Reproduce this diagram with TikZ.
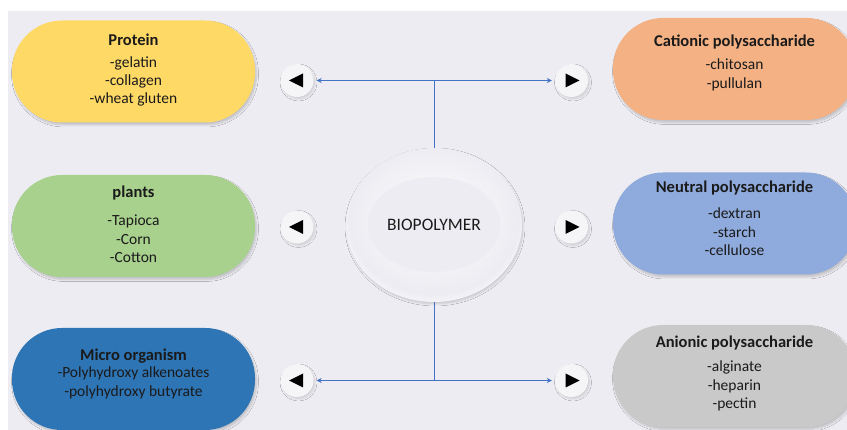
\documentclass[tikz,border=0pt]{standalone}
\usepackage{fontspec}
\setmainfont{Carlito}
\usetikzlibrary{shapes.geometric,shadows.blur,arrows.meta}
\definecolor{bgc}{HTML}{ECECF2}
\definecolor{cyel}{HTML}{FFD966}
\definecolor{cgrn}{HTML}{A9D18E}
\definecolor{cblu}{HTML}{2E75B6}
\definecolor{cora}{HTML}{F4B183}
\definecolor{cneu}{HTML}{8FAADC}
\definecolor{cgry}{HTML}{C9C9C9}
\definecolor{lnc}{HTML}{4472C4}
\definecolor{txc}{HTML}{1A1A1A}
\definecolor{ringmid}{HTML}{E0E0E6}
\definecolor{ringedge}{HTML}{9A9AA4}
\pgfdeclareradialshading{ringshade}{\pgfpoint{0bp}{3bp}}{%
  color(0bp)=(white); color(24bp)=(bgc); color(28bp)=(white!70!bgc); color(32bp)=(ringmid); color(36bp)=(ringmid!55!ringedge); color(40bp)=(ringedge); color(50bp)=(ringedge)}
\tikzset{
  pill/.style={draw=none, rounded corners=50pt, minimum width=243pt, minimum height=102pt,
    blur shadow={shadow xshift=1.5pt, shadow yshift=-2.5pt, shadow blur steps=6, shadow opacity=18}},
  ttl/.style={font=\fontsize{16.5}{19}\selectfont\bfseries, text=txc, inner sep=0pt},
  itm/.style={font=\fontsize{15.5}{18.4}\selectfont, text=txc, align=center, inner sep=0pt},
  btn/.style={circle, minimum size=33pt, inner sep=0pt, fill=bgc!55!white,
    blur shadow={shadow xshift=1.5pt, shadow yshift=-2pt, shadow blur steps=5, shadow opacity=12}},
  tri/.style={fill=black},
  conn/.style={draw=lnc, line width=0.9pt},
  tip/.style={{Stealth[length=5pt,width=5pt]}-{Stealth[length=5pt,width=5pt]}, shorten <=3pt, shorten >=3pt}
}
\begin{document}
\begin{tikzpicture}[x=1pt,y=-1pt]
\useasboundingbox (0,0) rectangle (847,430);
\fill[white] (0,0) rectangle (847,430);
\fill[bgc] (8,11) rectangle (847,430);
\begin{scope}
\clip (0,0) rectangle (847,430);
% pills
\node[pill, fill=cyel] (p1) at (133.5,71.5) {};
\node[pill, fill=cgrn] (p2) at (133.5,226) {};
\node[pill, fill=cblu] (p3) at (133.5,379) {};
\node[pill, fill=cora] (p4) at (734.5,69) {};
\node[pill, fill=cneu] (p5) at (734.5,223.5) {};
\node[pill, fill=cgry] (p6) at (734.5,376) {};
\end{scope}
% texts
\node[ttl] (t1) at (133.5,40) {Protein};
\node[itm] (i1) at (133.5,81.5) {-gelatin\\-collagen\\-wheat gluten};
\node[ttl] (t2) at (133.5,193) {plants};
\node[itm] (i2) at (133.5,239) {-Tapioca\\-Corn\\-Cotton};
\node[ttl] (t3) at (133.5,356) {Micro organism};
\node[itm] (i3) at (133.5,383) {-Polyhydroxy alkenoates\\-polyhydroxy butyrate};
\node[ttl] (t4) at (734.5,42) {Cationic polysaccharide};
\node[itm] (i4) at (734.5,75) {-chitosan\\-pullulan};
\node[ttl] (t5) at (734.5,188) {Neutral polysaccharide};
\node[itm] (i5) at (734.5,232) {-dextran\\-starch\\-cellulose};
\node[ttl] (t6) at (734.5,343) {Anionic polysaccharide};
\node[itm] (i6) at (734.5,386) {-alginate\\-heparin\\-pectin};
% central ellipse
\node[ellipse, minimum width=176pt, minimum height=154pt, shading=ringshade,
  blur shadow={shadow xshift=1pt, shadow yshift=-2pt, shadow blur steps=6, shadow opacity=15}] (bio) at (434,225) {};
\node[ellipse, minimum width=125pt, minimum height=95pt, fill=bgc, inner sep=0pt,
  font=\fontsize{17.5}{20}\selectfont, text=txc] (bioin) at (434,224.5) {BIOPOLYMER};
% buttons
\node[btn] (bl1) at (297,80.5) {};
\node[btn] (br1) at (571.5,80.5) {};
\node[btn] (bl2) at (297,227) {};
\node[btn] (br2) at (571.5,227) {};
\node[btn] (bl3) at (297,380.5) {};
\node[btn] (br3) at (571.5,380.5) {};
\foreach \b in {bl1,bl2,bl3}{
  \fill[tri] ([shift={(-8,0)}]\b.center) -- ([shift={(6,-7)}]\b.center) -- ([shift={(6,7)}]\b.center) -- cycle;
}
\foreach \b in {br1,br2,br3}{
  \fill[tri] ([shift={(8,0)}]\b.center) -- ([shift={(-6,-7)}]\b.center) -- ([shift={(-6,7)}]\b.center) -- cycle;
}
% connectors
\draw[conn, tip] (bl1) -- (br1);
\draw[conn, tip] (bl3) -- (br3);
\draw[conn] (bio.north) -- (bio.north |- bl1);
\draw[conn] (bio.south) -- (bio.south |- bl3);
\end{tikzpicture}
\end{document}
